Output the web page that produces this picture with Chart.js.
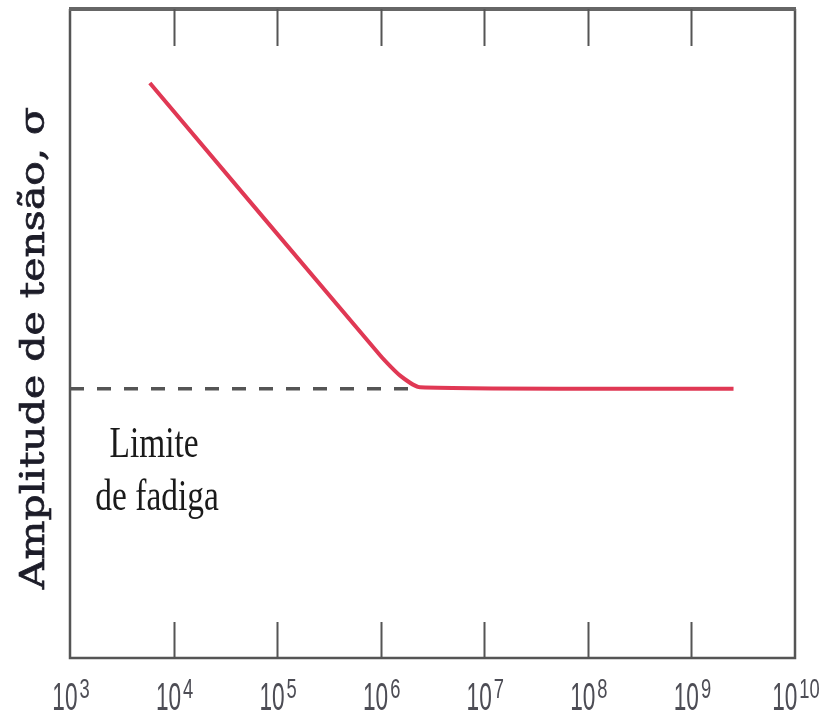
<!DOCTYPE html>
<html>
<head>
<meta charset="utf-8">
<script src="https://cdn.jsdelivr.net/npm/chart.js@4/dist/chart.umd.min.js"></script>
<style>
  html, body { margin: 0; background: #fff; }
  #wrap { width: 819px; height: 715px; }
</style>
</head>
<body>
<div id="wrap"><canvas id="chart"></canvas></div>
<script>
// S-N curve: cycles vs stress amplitude (arbitrary units)
const cycles = [5900, 9.9e5, 1.54e6, 2.4e6, 2.55e9];
const amplitude = [88.6, 46.6, 43.5, 41.7, 41.5];
const limitCycles = [1e3, 2.3e6];
const limitAmplitude = [41.5, 41.5];
const decades = [3, 4, 5, 6, 7, 8, 9, 10];
const yTitle = 'Amplitude de tensão, σ';
const noteLines = ['Limite', 'de fadiga'];

const framePlugin = {
  id: 'frame',
  afterDraw(chart) {
    const ctx = chart.ctx;
    const a = chart.chartArea;
    const x = chart.scales.x;
    const y = chart.scales.y;
    ctx.save();

    // frame
    ctx.strokeStyle = '#555';
    ctx.lineWidth = 2.5;
    ctx.beginPath();
    ctx.moveTo(a.left, a.top);
    ctx.lineTo(a.left, a.bottom);
    ctx.lineTo(a.right, a.bottom);
    ctx.lineTo(a.right, a.top);
    ctx.stroke();
    ctx.strokeStyle = '#666';
    ctx.lineWidth = 4;
    ctx.beginPath();
    ctx.moveTo(a.left - 1, a.top);
    ctx.lineTo(a.right + 1, a.top);
    ctx.stroke();

    // inward ticks top and bottom
    ctx.strokeStyle = '#555';
    ctx.lineWidth = 2;
    decades.slice(1, -1).forEach(d => {
      const px = Math.round(x.getPixelForValue(Math.pow(10, d))) + 0.5;
      ctx.beginPath();
      ctx.moveTo(px, a.top);
      ctx.lineTo(px, a.top + 37);
      ctx.moveTo(px, a.bottom);
      ctx.lineTo(px, a.bottom - 36);
      ctx.stroke();
    });

    // tick labels 10^n
    ctx.fillStyle = '#4d4d55';
    ctx.textBaseline = 'alphabetic';
    ctx.textAlign = 'left';
    decades.forEach(d => {
      const px = x.getPixelForValue(Math.pow(10, d));
      const sxBase = 0.58, sxExp = 0.68;
      ctx.font = '39px "Liberation Sans"';
      const wBase = ctx.measureText('10').width * sxBase;
      ctx.font = '27px "Liberation Sans"';
      const wExp = ctx.measureText(String(d)).width * sxExp;
      const left = px + 1 - (wBase + 2 + wExp) / 2;
      ctx.save();
      ctx.translate(left, a.bottom + 52);
      ctx.scale(sxBase, 1);
      ctx.font = '39px "Liberation Sans"';
      ctx.fillText('10', 0, 0);
      ctx.restore();
      ctx.save();
      ctx.translate(left + wBase + 2, a.bottom + 40);
      ctx.scale(sxExp, 1);
      ctx.font = '27px "Liberation Sans"';
      ctx.fillText(String(d), 0, 0);
      ctx.restore();
    });

    // y title
    ctx.save();
    ctx.fillStyle = '#1c1c28';
    ctx.strokeStyle = '#1c1c28';
    ctx.lineWidth = 0.7;
    ctx.font = '33px "DejaVu Serif"';
    const tw = ctx.measureText(yTitle).width;
    const target = 482;
    ctx.translate(44, 348);
    ctx.rotate(-Math.PI / 2);
    ctx.scale(target / tw, 1);
    ctx.textAlign = 'center';
    ctx.textBaseline = 'alphabetic';
    ctx.fillText(yTitle, 0, 0);
    ctx.strokeText(yTitle, 0, 0);
    ctx.restore();

    // annotation
    ctx.save();
    ctx.fillStyle = '#1a1a1a';
    ctx.font = '44px "Liberation Serif"';
    ctx.textAlign = 'center';
    ctx.textBaseline = 'alphabetic';
    const notePos = [[6490, 30.9], [6930, 22.8]];
    noteLines.forEach((t, i) => {
      const px = x.getPixelForValue(notePos[i][0]);
      const py = y.getPixelForValue(notePos[i][1]);
      ctx.save();
      ctx.translate(px, py);
      ctx.scale(0.76, 1);
      ctx.fillText(t, 0, 0);
      ctx.restore();
    });
    ctx.restore();

    ctx.restore();
  }
};

new Chart(document.getElementById('chart'), {
  type: 'line',
  data: {
    datasets: [
      {
        data: limitCycles.map((c, i) => ({ x: c, y: limitAmplitude[i] })),
        borderColor: '#555',
        borderWidth: 3.5,
        borderDash: [14, 13],
        pointRadius: 0,
        fill: false
      },
      {
        data: cycles.map((c, i) => ({ x: c, y: amplitude[i] })),
        borderColor: 'rgb(224,56,84)',
        borderWidth: 4,
        pointRadius: 0,
        tension: 0.2,
        fill: false
      }
    ]
  },
  options: {
    responsive: true,
    maintainAspectRatio: false,
    animation: false,
    layout: { padding: { left: 70, right: 24, top: 9, bottom: 57 } },
    plugins: { legend: { display: false }, tooltip: { enabled: false } },
    scales: {
      x: { type: 'logarithmic', min: 1e3, max: 1e10, display: false },
      y: { type: 'linear', min: 0, max: 100, display: false }
    }
  },
  plugins: [framePlugin]
});
</script>
</body>
</html>
